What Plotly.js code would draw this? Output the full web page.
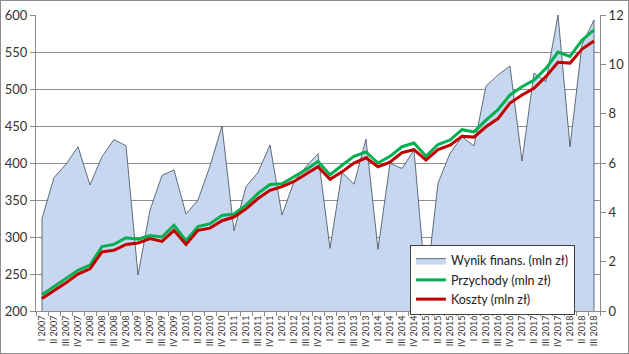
<!DOCTYPE html>
<html>
<head>
<meta charset="utf-8">
<script src="https://cdn.plot.ly/plotly-3.0.1.min.js"></script>
<style>
html,body{margin:0;padding:0;background:#fff;}
#wrap{width:629px;height:354px;box-sizing:border-box;border:1px solid #8c8c8c;}
#chart{width:627px;height:352px;}
</style>
</head>
<body>
<div id="wrap"><div id="chart"></div></div>
<script>
const categories = [
 "I 2007","II 2007","III 2007","IV 2007",
 "I 2008","II 2008","III 2008","IV 2008",
 "I 2009","II 2009","III 2009","IV 2009",
 "I 2010","II 2010","III 2010","IV 2010",
 "I 2011","II 2011","III 2011","IV 2011",
 "I 2012","II 2012","III 2012","IV 2012",
 "I 2013","II 2013","III 2013","IV 2013",
 "I 2014","II 2014","III 2014","IV 2014",
 "I 2015","II 2015","III 2015","IV 2015",
 "I 2016","II 2016","III 2016","IV 2016",
 "I 2017","II 2017","III 2017","IV 2017",
 "I 2018","II 2018","III 2018"
];
// Wynik finansowy (right axis, mln zł)
const wynik = [
 3.75, 5.41, 5.95, 6.66,
 5.11, 6.26, 6.95, 6.70,
 1.46, 4.09, 5.50, 5.72,
 3.93, 4.50, 5.88, 7.50,
 3.26, 5.04, 5.62, 6.73,
 3.89, 5.25, 5.85, 6.37,
 2.54, 5.62, 5.14, 6.97,
 2.50, 5.99, 5.78, 6.53,
 0.90, 5.18, 6.39, 7.07,
 6.69, 9.12, 9.57, 9.93,
 6.08, 9.64, 9.30, 12.0,
 6.66, 10.8, 11.8
];
// Przychody (left axis, mln zł)
const przychody = [
 222, 233, 244, 255,
 262, 287, 290, 299,
 297, 302, 300, 316,
 295, 314, 318, 329,
 331, 343, 359, 371,
 372, 381, 391, 402,
 384, 397, 409, 415,
 400, 409, 422, 427,
 409, 425, 431, 445,
 442, 458, 472, 492,
 503, 512, 528, 550,
 544, 566, 580
];
// Koszty (left axis, mln zł)
const koszty = [
 217, 227, 238, 250,
 257, 280, 282, 290,
 292, 298, 294, 309,
 290, 309, 312, 322,
 327, 338, 352, 363,
 368, 375, 385, 395,
 378, 388, 400, 407,
 395, 401, 414, 418,
 404, 418, 424, 436,
 435, 449, 460, 481,
 492, 501, 517, 536,
 535, 554, 565
];

const FONT = "Lato, 'Liberation Sans', sans-serif";
const last = categories.length - 1;

const traces = [
 {
  name: "Wynik finans. (mln zł)",
  type: "scatter", mode: "lines",
  x: [categories[0]].concat(categories, [categories[last]]),
  y: [0].concat(wynik, [0]),
  xaxis: "x", yaxis: "y",
  fill: "tozeroy", fillcolor: "#C6D7EF",
  line: {color: "#3E4B5C", width: 0.8}
 },
 {
  name: "Przychody (mln zł)",
  type: "scatter", mode: "lines",
  x: categories, y: przychody,
  xaxis: "x", yaxis: "y2",
  line: {color: "#00B050", width: 3}
 },
 {
  name: "Koszty (mln zł)",
  type: "scatter", mode: "lines",
  x: categories, y: koszty,
  xaxis: "x", yaxis: "y2",
  line: {color: "#C00000", width: 3}
 }
];

const layout = {
 width: 627, height: 352,
 margin: {l: 35, r: 28, t: 14, b: 42},
 paper_bgcolor: "#fff", plot_bgcolor: "#fff",
 font: {family: FONT, color: "#333", size: 12},
 showlegend: true,
 legend: {
  x: 0.663, y: 0.223, xanchor: "left", yanchor: "top",
  bgcolor: "#fff", bordercolor: "#404040", borderwidth: 1,
  font: {family: FONT, size: 12.5, color: "#222"},
  tracegroupgap: 0
 },
 xaxis: {
  type: "category", range: [-0.5, last + 0.5],
  tickangle: -90, tickfont: {size: 9, family: FONT, color: "#333"},
  ticks: "outside", ticklen: 4, tickcolor: "#8c8c8c", tickson: "boundaries",
  showline: true, linecolor: "#8c8c8c", linewidth: 1,
  showgrid: false, automargin: false, fixedrange: true
 },
 yaxis: {
  side: "right", range: [0, 12], dtick: 2,
  showgrid: false, zeroline: false,
  ticks: "outside", ticklen: 5, tickcolor: "#8c8c8c",
  showline: true, linecolor: "#8c8c8c", linewidth: 1,
  tickfont: {size: 13, family: FONT, color: "#333"},
  automargin: false
 },
 yaxis2: {
  overlaying: "y", side: "left", range: [200, 600], dtick: 50,
  showgrid: true, gridcolor: "#8e8e8e", gridwidth: 1, zeroline: false,
  ticks: "outside", ticklen: 5, tickcolor: "#8c8c8c",
  showline: true, linecolor: "#8c8c8c", linewidth: 1,
  tickfont: {size: 13, family: FONT, color: "#333"},
  automargin: false
 }
};

Plotly.newPlot("chart", traces, layout, {displayModeBar: false, staticPlot: true});
</script>
</body>
</html>
